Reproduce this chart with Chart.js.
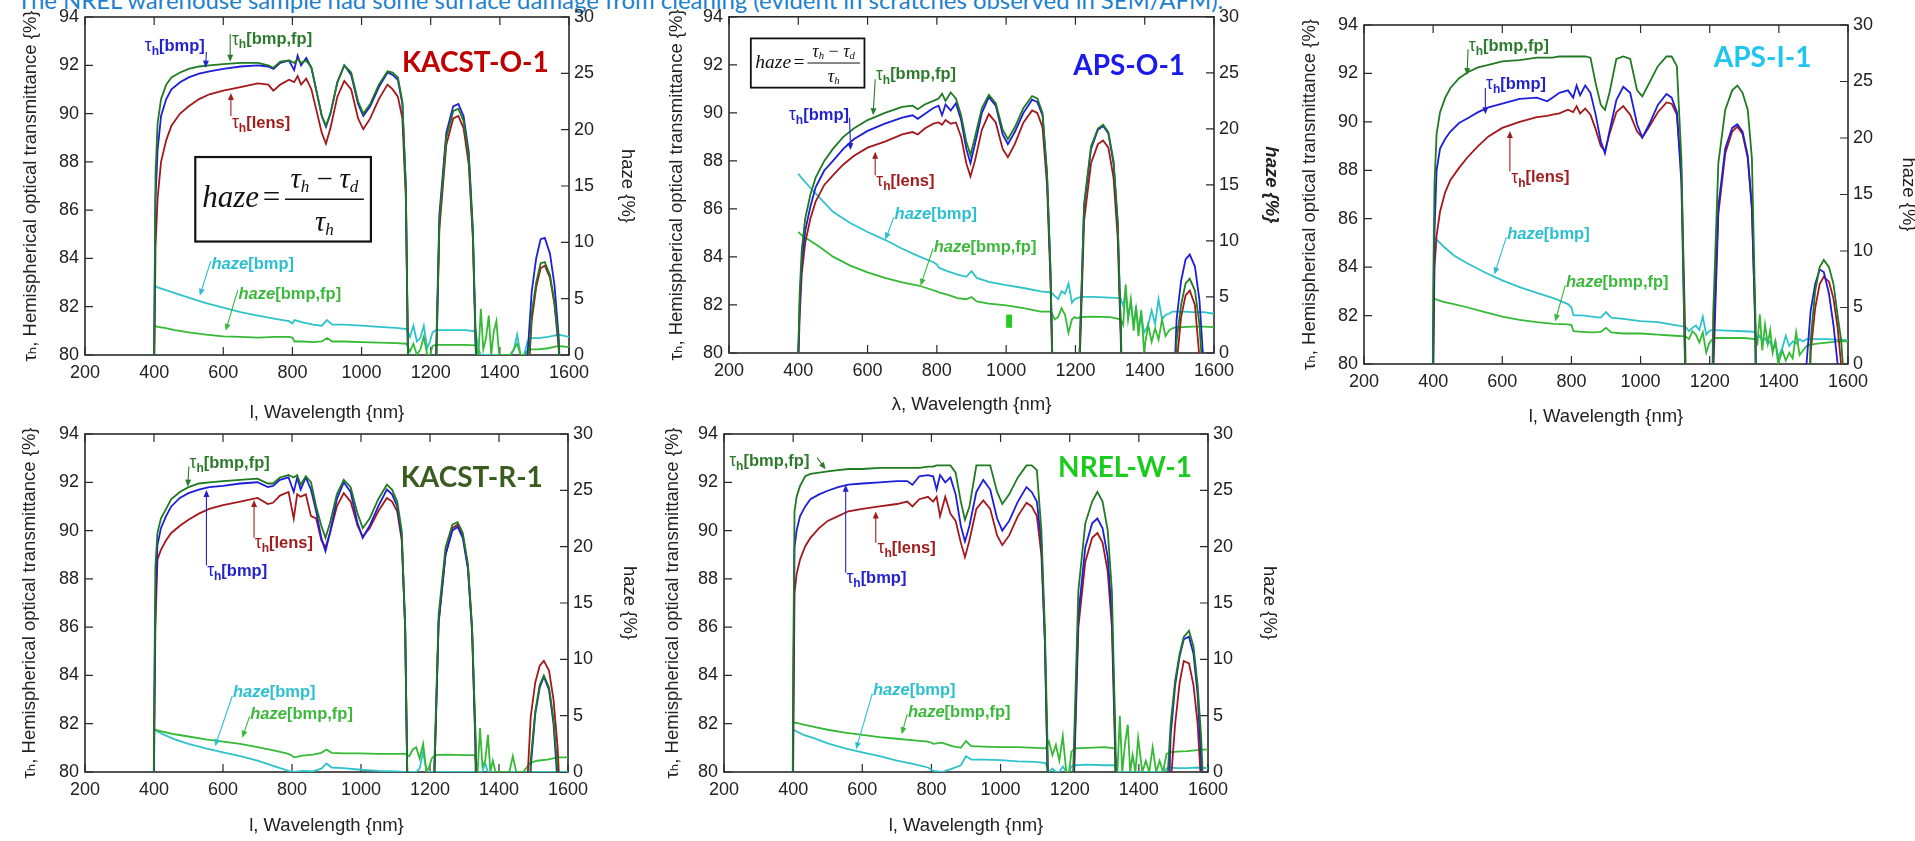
<!DOCTYPE html>
<html><head><meta charset="utf-8">
<script src="https://cdn.jsdelivr.net/npm/chart.js@4.4.1/dist/chart.umd.min.js"></script>
<style>
html,body{margin:0;padding:0;background:#fff;width:1915px;height:841px;overflow:hidden;position:relative;}
#note{position:absolute;left:17px;top:-12px;font-family:Lato,"Open Sans",sans-serif;font-size:23px;line-height:23px;color:#1e80cc;white-space:nowrap;}
canvas{position:absolute;}
</style></head><body>
<div id="note">The NREL warehouse sample had some surface damage from cleaning (evident in scratches observed in SEM/AFM).</div>
<script>
// ---------- shared grids & ticks ----------
const WAVELENGTH_T = [396,400,404,410,420,435,450,475,500,530,560,600,650,700,730,745,765,790,805,815,825,840,855,870,885,897,910,930,950,970,990,1005,1025,1050,1075,1090,1105,1118,1128,1136,1145,1200,1210,1225,1245,1265,1280,1295,1310,1322,1332,1340,1470,1480,1492,1505,1518,1530,1545,1558,1570,1580,1590,1600];
const WAVELENGTH_H = [400,410,430,460,500,550,600,650,700,750,790,800,806,830,860,885,900,915,950,1000,1050,1100,1130,1140,1150,1160,1170,1180,1190,1198,1205,1215,1250,1300,1330,1338,1345,1352,1360,1368,1375,1382,1390,1398,1410,1420,1430,1440,1450,1460,1470,1480,1490,1510,1540,1570,1600];
const X_TICKS = [200,400,600,800,1000,1200,1400,1600];
const T_TICKS = [80,82,84,86,88,90,92,94];
const HAZE_TICKS = [0,5,10,15,20,25,30];
const SAMPLE_NAMES = ['KACST-O-1','APS-O-1','APS-I-1','KACST-R-1','NREL-W-1'];

// ---------- KACST-O-1 ----------
const kacstO_tauFp   = [70,80.5,87.5,89.6,90.6,91.2,91.5,91.7,91.85,91.95,92.0,92.05,92.1,92.1,92.0,91.9,92.15,92.2,92.1,92.25,92.1,92.2,91.9,90.9,89.9,89.5,90.0,91.3,92.0,91.7,90.5,90.0,90.4,91.2,91.75,91.7,91.5,90.5,87,78,70,70,76,85.5,89.0,90.1,90.2,89.7,88.2,85,79.5,70,70,79,81.7,83.0,83.8,83.85,83.3,82.2,80.5,77,70,70];
const kacstO_tauBmp  = [70,80,86.5,88.5,89.9,90.6,91.0,91.3,91.5,91.65,91.75,91.85,91.95,92.0,91.95,91.85,92.1,92.2,91.8,92.4,92.0,92.3,91.9,90.9,89.9,89.45,90.0,91.3,92.0,91.6,90.4,89.9,90.3,91.1,91.7,91.6,91.4,90.4,87,78,70,70,76.5,85.8,89.2,90.3,90.4,89.9,88.4,85.2,79.5,70,70,80,82.6,84.0,84.8,84.85,84.2,82.9,80.8,77,70,70];
const kacstO_tauLens = [70,79,84.5,86.5,88.0,88.9,89.5,90.0,90.3,90.6,90.8,90.95,91.1,91.25,91.2,90.95,91.2,91.4,91.3,91.55,91.2,91.45,91.0,90.1,89.2,88.75,89.4,90.7,91.35,91.0,89.8,89.35,89.8,90.6,91.2,91.0,90.7,89.8,86.5,78,70,70,76,85.2,88.7,89.8,89.9,89.4,87.9,84.8,79.2,70,70,78.5,81.4,82.8,83.6,83.7,83.2,82.1,80.3,77,70,70];
const kacstO_hazeBmp = [6.2,6.0,5.8,5.5,5.1,4.6,4.2,3.8,3.5,3.2,3.0,2.8,3.1,2.9,2.7,2.6,3.1,2.7,2.7,2.6,2.5,2.4,2.3,1.6,2.6,1.2,1.5,2.6,0.6,1.2,2.0,2.2,2.2,2.2,2.1,0.5,0,0,0,0,0,0,0,0,0,0,0,0.4,1.8,0,0,1.2,1.5,1.5,1.6,1.8,1.6];
const kacstO_hazeFp  = [2.6,2.5,2.4,2.2,2.0,1.8,1.65,1.6,1.55,1.6,1.6,1.55,1.2,1.2,1.15,1.2,1.5,1.2,1.2,1.15,1.1,1.05,1.0,0.3,1.0,0,0.5,1.6,0,0,0.8,0.9,0.9,0.9,0.85,0,4.1,0.5,1.5,3.5,0,2.0,3.0,0,0,0,0,0.5,1.0,0,0,0.4,0.5,0.5,0.6,0.8,0.7];

// ---------- APS-O-1 ----------
const apsO_tauFp   = [70,80,82.5,84.3,85.6,86.6,87.3,88.0,88.5,89.0,89.35,89.7,90.0,90.25,90.3,90.15,90.35,90.5,90.6,90.8,90.5,90.85,90.6,89.9,88.8,88.25,89.0,90.2,90.75,90.4,89.3,88.9,89.4,90.2,90.7,90.6,90.0,87.5,83.5,78,70,70,79,86.2,88.6,89.35,89.5,89.2,88.0,85.5,80.5,70,70,75,80.5,82.0,82.9,83.1,82.6,81.2,78.5,74,70,70];
const apsO_tauBmp  = [70,80,82,83.8,85.1,86.1,86.9,87.6,88.0,88.5,88.9,89.25,89.55,89.8,89.9,89.75,89.95,90.2,90.3,89.9,90.35,90.1,90.4,89.7,88.5,87.9,88.7,90.0,90.65,90.3,89.1,88.7,89.2,90.0,90.55,90.45,89.9,87.4,83.4,78,70,70,79,86.1,88.5,89.3,89.45,89.15,87.9,85.4,80.4,70,70,77,81.4,83.0,83.9,84.1,83.6,82.2,79.5,75,70,70];
const apsO_tauLens = [70,79.5,81.5,83.3,84.6,85.6,86.3,87.0,87.4,87.85,88.2,88.55,88.8,89.1,89.2,89.1,89.35,89.55,89.6,89.5,89.7,89.55,89.6,89.0,87.9,87.35,88.0,89.3,89.95,89.6,88.5,88.15,88.7,89.6,90.1,90.0,89.4,87.0,83.0,77.5,70,70,78.5,85.5,87.9,88.7,88.85,88.55,87.3,84.8,80,70,70,74,79.5,81.5,82.4,82.6,82.0,79.8,75,70,70,70];
const apsO_hazeBmp = [16.0,15.6,14.9,13.9,12.6,11.6,10.8,10.1,9.3,8.6,8.1,7.9,7.6,7.3,7.0,6.8,7.3,6.7,6.35,6.05,5.8,5.5,5.4,5.1,4.8,5.5,5.3,6.2,4.5,4.8,4.9,5.0,5.0,4.95,4.9,4.2,5.6,3.2,4.5,2.5,4.0,2.2,3.5,1.8,2.5,3.8,2.6,4.8,3.0,3.4,3.5,3.7,3.7,3.7,3.65,3.65,3.5];
const apsO_hazeFp  = [10.8,10.5,10.1,9.5,8.6,7.8,7.2,6.7,6.3,6.0,5.6,5.5,5.4,5.2,4.9,4.8,5.0,4.6,4.4,4.25,4.0,3.7,3.7,3.0,3.2,4.0,3.4,1.8,3.0,3.2,3.1,3.2,3.25,3.2,3.0,2.5,6.1,3.0,4.8,2.0,4.2,1.5,3.8,0.2,2.5,1.0,2.2,1.2,3.0,1.5,2.0,2.2,2.3,2.3,2.35,2.35,2.3];

// ---------- APS-I-1 ----------
const apsI_tauFp   = [70,83,87.5,89.5,90.4,91.0,91.4,91.8,92.05,92.25,92.35,92.5,92.55,92.65,92.65,92.65,92.7,92.7,92.7,92.7,92.7,92.7,92.65,91.6,90.7,90.5,91.2,92.6,92.7,92.6,91.3,91.05,91.6,92.3,92.7,92.7,92.3,88.5,80.5,72,70,70,82,88.3,90.5,91.3,91.5,91.2,90.5,88.5,82,70,70,73,81.0,83.0,84.0,84.3,84.0,83.3,82.0,81,79,75];
const apsI_tauBmp  = [70,79,85.5,88.0,88.9,89.3,89.6,89.95,90.15,90.4,90.6,90.75,90.95,91.0,90.85,91.0,91.2,91.3,91.0,91.5,91.1,91.5,91.2,90.3,89.2,88.7,89.6,90.9,91.45,91.2,89.9,89.35,89.9,90.7,91.15,91.0,90.4,87.5,80.5,72,70,71,80.5,86.5,88.9,89.75,89.9,89.6,88.6,86.5,81.5,70,70,80,82.2,83.3,83.9,83.8,82.9,81.6,80,77,70,70];
const apsI_tauLens = [70,80,84.0,85.3,86.3,87.1,87.6,88.1,88.55,89.0,89.4,89.75,90.0,90.2,90.25,90.3,90.35,90.5,90.4,90.65,90.35,90.55,90.3,89.7,89.0,88.8,89.5,90.4,90.65,90.3,89.6,89.35,89.8,90.4,90.8,90.75,90.3,88.0,82,74,70,70,79.5,86.2,88.7,89.6,89.8,89.5,88.5,86.4,81.5,70,70,74,80.5,82.3,83.3,83.6,83.4,82.7,81.5,80.0,78,73];
const apsI_hazeBmp = [11.3,11.0,10.4,9.6,8.9,8.1,7.4,6.8,6.3,5.8,5.3,5.0,4.3,4.3,4.2,4.1,4.6,4.1,4.0,3.8,3.7,3.45,3.3,2.9,3.2,3.4,3.0,4.2,2.6,2.9,3.0,3.0,2.95,2.9,2.85,2.2,2.5,1.9,2.3,1.8,2.0,1.2,2.0,0.6,1.4,2.5,1.6,2.0,1.8,2.2,2.0,2.2,2.2,2.2,2.2,2.15,2.1];
const apsI_hazeFp  = [5.8,5.7,5.5,5.3,5.0,4.6,4.2,3.9,3.7,3.55,3.5,3.45,2.9,2.85,2.8,2.85,3.2,2.8,2.7,2.7,2.6,2.5,2.45,2.2,2.9,2.6,1.9,2.8,1.0,1.8,2.1,2.3,2.3,2.3,2.2,1.8,4.4,1.2,3.5,1.8,3.0,1.0,2.0,0,1.2,0.3,1.0,0.5,2.8,0.8,1.2,1.6,1.7,1.8,1.9,2.0,2.0];

// ---------- KACST-R-1 ----------
const kacstR_tauFp   = [70,82,88.5,89.9,90.5,90.9,91.3,91.6,91.8,91.95,92.0,92.05,92.1,92.15,91.95,91.95,92.2,92.3,92.2,92.3,91.9,92.25,92.0,91.0,90.2,89.7,90.3,91.5,92.1,91.8,90.7,90.1,90.5,91.3,91.9,91.7,91.2,90.0,86,78,70,70,79,86.5,89.3,90.25,90.35,89.9,88.6,86,81.5,70,70,74,80.5,82.5,83.6,84.0,83.5,82.2,80,76,70,70];
const kacstR_tauBmp  = [70,81,87,89.4,90.1,90.6,91.0,91.35,91.55,91.7,91.8,91.85,91.95,92.0,91.8,91.85,92.1,92.2,91.6,92.2,91.7,92.2,91.7,90.8,89.7,89.15,89.9,91.3,92.0,91.6,90.3,89.7,90.2,91.0,91.7,91.5,91.0,89.8,86,78,70,70,78.5,86.2,89.0,90.0,90.15,89.7,88.4,85.8,81,70,70,73,80.2,82.4,83.5,83.95,83.4,82.0,79.5,75,70,70];
const kacstR_tauLens = [70,80,86,88.8,89.2,89.6,89.9,90.2,90.45,90.7,90.9,91.05,91.2,91.35,91.1,91.15,91.45,91.6,90.5,91.5,91.4,91.5,90.6,90.5,89.6,89.3,89.9,91.0,91.55,91.2,90.2,89.75,90.1,90.8,91.35,91.2,90.8,89.6,86,78,70,70,78.5,86.2,89.0,90.1,90.25,89.8,88.5,85.9,81,70,70,79,82.3,83.7,84.4,84.6,84.2,83.0,81.0,78,70,70];
const kacstR_hazeBmp = [3.8,3.6,3.3,2.9,2.5,2.1,1.75,1.4,1.0,0.5,0.1,0,0,0.1,0.05,0.3,0.75,0.4,0.35,0.2,0.1,0.05,0,0,0,0,0.3,1.8,0,0,0,0,0,0,0,0,0,0,0.8,0,0,0,0,0,0,0,0,0,0,0,0,0,0,0,0,0,0];
const kacstR_hazeFp  = [3.8,3.7,3.55,3.35,3.15,2.9,2.7,2.5,2.2,1.9,1.6,1.45,1.3,1.45,1.55,1.7,2.0,1.7,1.65,1.65,1.6,1.6,1.6,1.4,2.0,2.2,1.2,2.5,0,0.5,1.2,1.5,1.55,1.5,1.5,0,3.9,0.5,1.0,3.3,0,1.0,0,0,0,0,0,1.4,0,0,0,0.4,0.8,1.0,1.1,1.3,1.3];

// ---------- NREL-W-1 ----------
const nrel_tauFp   = [70,84,90.8,91.4,91.85,92.25,92.35,92.4,92.45,92.5,92.55,92.55,92.6,92.6,92.6,92.6,92.6,92.65,92.65,92.7,92.7,92.7,92.7,92.4,91.2,90.45,91.0,92.7,92.7,92.7,91.6,91.1,91.5,92.2,92.7,92.7,92.5,90,86,81,70,70,80,87.5,90.3,91.2,91.6,91.2,90.0,87.5,81.5,70,70,79,82.0,83.8,84.9,85.6,85.85,85.2,83.6,81.5,78,70];
const nrel_tauBmp  = [70,82,89.3,90.0,90.6,91.0,91.3,91.5,91.65,91.8,91.9,91.95,92.0,92.05,92.05,91.9,92.25,92.3,92.25,91.7,92.3,92.0,92.2,91.5,90.2,89.55,90.2,91.6,92.1,91.7,90.5,90.0,90.4,91.2,91.8,91.6,91.2,89.5,85.5,80,70,70,79,86.5,89.3,90.3,90.5,90.1,88.9,86.5,81,70,70,76,81.5,83.6,84.8,85.5,85.6,84.9,83.2,80.5,77,70];
const nrel_tauLens = [70,80,87.4,88.2,88.8,89.35,89.7,90.1,90.4,90.6,90.8,90.9,91.0,91.1,91.2,91.0,91.3,91.4,91.2,91.4,90.6,91.4,90.7,90.4,89.5,88.9,89.6,90.9,91.25,90.9,89.8,89.4,89.8,90.6,91.15,91.0,90.6,89.0,85.5,80,70,70,78.5,86.0,88.7,89.7,89.9,89.5,88.3,86.0,80.5,70,70,74,79.5,82.0,83.7,84.6,84.5,83.6,82.0,79.5,76,70];
const nrel_hazeBmp = [3.8,3.6,3.3,3.0,2.55,2.1,1.75,1.4,1.0,0.7,0.4,0.2,0.1,0,0.3,0.6,1.4,1.1,1.1,1.05,0.95,0.9,0.8,0,0.3,0,0,0.5,0,0,0.5,0.6,0.65,0.6,0.6,0,0,0,0,0,0,0,0,0,0,0,0,0,0,0,0,0.3,0.4,0.35,0.35,0.4,0.35];
const nrel_hazeFp  = [4.4,4.35,4.2,4.0,3.75,3.5,3.3,3.1,2.95,2.8,2.7,2.6,2.5,2.6,2.3,2.15,2.75,2.3,2.25,2.2,2.2,2.15,2.1,2.7,1.5,2.4,1.0,3.2,0,0,1.8,2.1,2.15,2.2,2.1,0,5.0,0,2.5,4.2,0,1.5,0,3.0,0,1.0,0,2.2,0,1.0,0,1.6,1.75,1.8,1.85,1.95,2.0];

// ---------- styles ----------
const LINE_C = {tauFp:'#1f7a22', tauBmp:'#1e1ed8', tauLens:'#a3191b', hazeBmp:'#2ec3cb', hazeFp:'#35ba35'};
const LABEL_C = {tauFp:'#2c7a2c', tauBmp:'#2222cc', tauLens:'#a01d1d', hazeBmp:'#2bbfd0', hazeFp:'#3cb83c'};
const SANS = '"Liberation Sans", Arial, "DejaVu Sans", sans-serif';
const SERIF = '"Liberation Serif", "DejaVu Serif", serif';

const PANELS = [
 { box:{L:85,R:569,T:17,B:355}, tl:{leftX:31,rightX:627,xY:413}, xTitle:'l, Wavelength {nm}', rightBI:false,
   s:[kacstO_tauFp,kacstO_tauBmp,kacstO_tauLens,kacstO_hazeBmp,kacstO_hazeFp],
   name:{text:SAMPLE_NAMES[0], color:'#c00000', x:1329, y:92.1},
   formula:{x1:519,y1:88.2,x2:1027,y2:84.7,fs:31},
   labels:[
    {k:'tau',t:'[bmp]',c:'tauBmp',x:373,y:92.8,a:[551,92.55,549,91.9]},
    {k:'tau',t:'[bmp,fp]',c:'tauFp',x:625,y:93.06,a:[620,93.3,620,92.15]},
    {k:'tau',t:'[lens]',c:'tauLens',x:625,y:89.6,a:[622,89.9,622,90.85]},
    {k:'haze',t:'[bmp]',c:'hazeBmp',x:566,y:83.76,a:[564,83.9,532,82.45]},
    {k:'haze',t:'[bmp,fp]',c:'hazeFp',x:644,y:82.52,a:[642,82.7,607,81.0]}]},
 { box:{L:729,R:1214,T:15,B:353}, tl:{leftX:677,rightX:1271,xY:405}, xTitle:'λ, Wavelength {nm}', rightBI:true,
   s:[apsO_tauFp,apsO_tauBmp,apsO_tauLens,apsO_hazeBmp,apsO_hazeFp],
   name:{text:SAMPLE_NAMES[1], color:'#1a1aee', x:1355, y:91.97},
   formula:{x1:263,y1:93.1,x2:591,y2:91.05,fs:19.5},
   mark:{x1:1000,y1:81.6,x2:1017,y2:81.05,color:'#22cc22'},
   labels:[
    {k:'tau',t:'[bmp,fp]',c:'tauFp',x:624,y:91.58,a:[622,91.4,616,89.9]},
    {k:'tau',t:'[bmp]',c:'tauBmp',x:373,y:89.9,a:[548,89.8,551,88.45]},
    {k:'tau',t:'[lens]',c:'tauLens',x:625,y:87.14,a:[622,87.4,622,88.38]},
    {k:'haze',t:'[bmp]',c:'hazeBmp',x:678,y:85.76,a:[676,85.65,651,84.72]},
    {k:'haze',t:'[bmp,fp]',c:'hazeFp',x:791,y:84.4,a:[789,84.35,753,82.8]}]},
 { box:{L:1364,R:1848,T:25,B:364}, tl:{leftX:1310,rightX:1908,xY:417}, xTitle:'l, Wavelength {nm}', rightBI:false,
   s:[apsI_tauFp,apsI_tauBmp,apsI_tauLens,apsI_hazeBmp,apsI_hazeFp],
   name:{text:SAMPLE_NAMES[2], color:'#1fc6f0', x:1353, y:92.65},
   labels:[
    {k:'tau',t:'[bmp,fp]',c:'tauFp',x:503,y:93.13,a:[501,93.0,498,91.93]},
    {k:'tau',t:'[bmp]',c:'tauBmp',x:553,y:91.55,a:[551,91.4,551,90.31]},
    {k:'tau',t:'[lens]',c:'tauLens',x:626,y:87.69,a:[622,87.95,622,89.62]},
    {k:'haze',t:'[bmp]',c:'hazeBmp',x:614,y:85.37,a:[612,85.25,577,83.7]},
    {k:'haze',t:'[bmp,fp]',c:'hazeFp',x:784,y:83.35,a:[782,83.25,753,81.76]}]},
 { box:{L:85,R:568,T:434,B:772}, tl:{leftX:30,rightX:629,xY:826}, xTitle:'l, Wavelength {nm}', rightBI:false,
   s:[kacstR_tauFp,kacstR_tauBmp,kacstR_tauLens,kacstR_hazeBmp,kacstR_hazeFp],
   name:{text:SAMPLE_NAMES[3], color:'#3b5c1f', x:1321, y:92.17},
   labels:[
    {k:'tau',t:'[bmp,fp]',c:'tauFp',x:503,y:92.79,a:[501,92.65,498,91.82]},
    {k:'tau',t:'[lens]',c:'tauLens',x:692,y:89.48,a:[690,89.7,690,91.27]},
    {k:'tau',t:'[bmp]',c:'tauBmp',x:554,y:88.31,a:[552,88.55,552,91.68]},
    {k:'haze',t:'[bmp]',c:'hazeBmp',x:629,y:83.28,a:[627,83.15,577,81.07]},
    {k:'haze',t:'[bmp,fp]',c:'hazeFp',x:679,y:82.38,a:[677,82.3,656,81.42]}]},
 { box:{L:724,R:1208,T:434,B:772}, tl:{leftX:673,rightX:1269,xY:826}, xTitle:'l, Wavelength {nm}', rightBI:false,
   s:[nrel_tauFp,nrel_tauBmp,nrel_tauLens,nrel_hazeBmp,nrel_hazeFp],
   name:{text:SAMPLE_NAMES[4], color:'#1ccc1c', x:1360, y:92.6},
   labels:[
    {k:'tau',t:'[bmp,fp]',c:'tauFp',x:215,y:92.86,a:[469,93.02,494,92.54]},
    {k:'tau',t:'[bmp]',c:'tauBmp',x:554,y:88.03,a:[552,88.25,552,91.9]},
    {k:'tau',t:'[lens]',c:'tauLens',x:644,y:89.27,a:[639,89.5,639,90.79]},
    {k:'haze',t:'[bmp]',c:'hazeBmp',x:631,y:83.39,a:[629,83.25,582,80.94]},
    {k:'haze',t:'[bmp,fp]',c:'hazeFp',x:732,y:82.48,a:[730,82.4,714,81.56]}]}
];

// ---------- fit the top note width ----------
(function(){
  const note = document.getElementById('note');
  const w = note.getBoundingClientRect().width;
  if (w > 0) note.style.fontSize = (23 * 1207 / w) + 'px';
})();

// ---------- drawing helpers ----------
function drawArrow(ctx, x1, y1, x2, y2, color) {
  ctx.save();
  ctx.strokeStyle = color; ctx.fillStyle = color; ctx.lineWidth = 1.1;
  const ang = Math.atan2(y2 - y1, x2 - x1), L = 7, Wd = 3;
  ctx.beginPath(); ctx.moveTo(x1, y1); ctx.lineTo(x2 - Math.cos(ang) * L * 0.8, y2 - Math.sin(ang) * L * 0.8); ctx.stroke();
  ctx.beginPath();
  ctx.moveTo(x2, y2);
  ctx.lineTo(x2 - Math.cos(ang) * L + Math.sin(ang) * Wd, y2 - Math.sin(ang) * L - Math.cos(ang) * Wd);
  ctx.lineTo(x2 - Math.cos(ang) * L - Math.sin(ang) * Wd, y2 - Math.sin(ang) * L + Math.cos(ang) * Wd);
  ctx.closePath(); ctx.fill();
  ctx.restore();
}
function drawLabel(ctx, x, y, kind, bracket, color) {
  const fs = 16.5;
  ctx.save();
  ctx.fillStyle = color; ctx.textBaseline = 'middle'; ctx.textAlign = 'left';
  let cx = x;
  if (kind === 'tau') {
    ctx.font = `${fs + 1}px ${SANS}`;
    ctx.fillText('τ', cx, y); cx += ctx.measureText('τ').width;
    ctx.font = `bold ${Math.round(fs * 0.75)}px ${SANS}`;
    ctx.fillText('h', cx, y + fs * 0.33); cx += ctx.measureText('h').width;
  } else {
    ctx.font = `italic bold ${fs}px ${SANS}`;
    ctx.fillText('haze', cx, y); cx += ctx.measureText('haze').width;
  }
  ctx.font = `bold ${fs}px ${SANS}`;
  ctx.fillText(bracket, cx, y);
  ctx.restore();
}
function drawFormula(ctx, x1, y1, x2, y2, fs) {
  ctx.save();
  ctx.fillStyle = '#fff'; ctx.fillRect(x1, y1, x2 - x1, y2 - y1);
  ctx.strokeStyle = '#111'; ctx.lineWidth = fs > 25 ? 2.2 : 1.8; ctx.strokeRect(x1, y1, x2 - x1, y2 - y1);
  const w = x2 - x1, h = y2 - y1, cy = (y1 + y2) / 2;
  const it = s => `italic ${s}px ${SERIF}`, rm = s => `${s}px ${SERIF}`;
  ctx.fillStyle = '#111'; ctx.textBaseline = 'alphabetic'; ctx.textAlign = 'left';
  let cx = x1 + w * 0.04;
  const base = cy + fs * 0.24;
  ctx.font = it(fs); ctx.fillText('haze', cx, base); cx += ctx.measureText('haze').width + fs * 0.12;
  ctx.font = rm(fs); ctx.fillText('=', cx, base); cx += ctx.measureText('=').width + fs * 0.15;
  const lx1 = cx, lx2 = x2 - w * 0.04;
  ctx.lineWidth = Math.max(1, fs / 22);
  ctx.beginPath(); ctx.moveTo(lx1, cy); ctx.lineTo(lx2, cy); ctx.stroke();
  const nf = fs * 0.92;
  const put = (parts, by) => {
    let tw = 0; parts.forEach(p => { ctx.font = p[1]; tw += ctx.measureText(p[0]).width; });
    let nx = (lx1 + lx2) / 2 - tw / 2;
    parts.forEach(p => { ctx.font = p[1]; ctx.fillText(p[0], nx, by + p[2]); nx += ctx.measureText(p[0]).width; });
  };
  put([['τ', it(nf), 0], ['h', it(nf * 0.6), nf * 0.12], [' − ', rm(nf), 0], ['τ', it(nf), 0], ['d', it(nf * 0.6), nf * 0.12]], cy - 0.2 * h + nf * 0.2);
  put([['τ', it(nf), 0], ['h', it(nf * 0.6), nf * 0.12]], cy + 0.31 * h + nf * 0.2);
  ctx.restore();
}

// ---------- build charts ----------
const TICKFONT = {family: SANS, size: 18};
const TFONT = {family: SANS, size: 18.5};
PANELS.forEach((p, idx) => {
  const cL = p.tl.leftX - 15, cR = p.tl.rightX + 15;
  const cT = Math.max(0, p.box.T - 20), cB = p.tl.xY + 15;
  const W = cR - cL, H = cB - cT;
  const padL = p.box.L - cL, padR = cR - p.box.R, padT = p.box.T - cT, padB = cB - p.box.B;
  const tpad = 15 - 18.5 * 1.2 / 2;
  const cv = document.createElement('canvas');
  cv.width = W; cv.height = H;
  cv.style.left = cL + 'px'; cv.style.top = cT + 'px';
  cv.style.width = W + 'px'; cv.style.height = H + 'px';
  document.body.appendChild(cv);

  const mk = (arr, grid, axis, key) => ({
    data: grid.map((x, i) => ({x, y: arr[i]})),
    yAxisID: axis, borderColor: LINE_C[key], borderWidth: 1.8,
    pointRadius: 0, fill: false, tension: 0
  });
  const datasets = [
    mk(p.s[0], WAVELENGTH_T, 'y', 'tauFp'),
    mk(p.s[1], WAVELENGTH_T, 'y', 'tauBmp'),
    mk(p.s[2], WAVELENGTH_T, 'y', 'tauLens'),
    mk(p.s[4], WAVELENGTH_H, 'y1', 'hazeFp'),
    mk(p.s[3], WAVELENGTH_H, 'y1', 'hazeBmp')
  ];
  const frame = {
    id: 'frame' + idx,
    beforeDatasetsDraw(chart) {
      const {ctx, chartArea: a, scales} = chart;
      ctx.save();
      ctx.strokeStyle = '#2a2a2a'; ctx.lineWidth = 1.6;
      ctx.strokeRect(a.left, a.top, a.right - a.left, a.bottom - a.top);
      ctx.lineWidth = 1.2; ctx.beginPath();
      X_TICKS.forEach(v => { const px = scales.x.getPixelForValue(v); ctx.moveTo(px, a.bottom); ctx.lineTo(px, a.bottom - 8); ctx.moveTo(px, a.top); ctx.lineTo(px, a.top + 8); });
      T_TICKS.forEach(v => { const py = scales.y.getPixelForValue(v); ctx.moveTo(a.left, py); ctx.lineTo(a.left + 8, py); });
      HAZE_TICKS.forEach(v => { const py = scales.y1.getPixelForValue(v); ctx.moveTo(a.right, py); ctx.lineTo(a.right - 8, py); });
      ctx.stroke(); ctx.restore();
    },
    afterDraw(chart) {
      const {ctx, scales: {x, y}} = chart;
      const X = v => x.getPixelForValue(v), Y = v => y.getPixelForValue(v);
      if (p.formula) drawFormula(ctx, X(p.formula.x1), Y(p.formula.y1), X(p.formula.x2), Y(p.formula.y2), p.formula.fs);
      if (p.mark) { ctx.save(); ctx.fillStyle = p.mark.color; ctx.fillRect(X(p.mark.x1), Y(p.mark.y1), X(p.mark.x2) - X(p.mark.x1), Y(p.mark.y2) - Y(p.mark.y1)); ctx.restore(); }
      p.labels.forEach(l => {
        drawArrow(ctx, X(l.a[0]), Y(l.a[1]), X(l.a[2]), Y(l.a[3]), LABEL_C[l.c]);
        drawLabel(ctx, X(l.x), Y(l.y), l.k, l.t, LABEL_C[l.c]);
      });
      ctx.save();
      ctx.font = 'bold 28px Lato, "Open Sans", sans-serif';
      ctx.fillStyle = p.name.color; ctx.textAlign = 'center'; ctx.textBaseline = 'middle';
      ctx.fillText(p.name.text, X(p.name.x), Y(p.name.y));
      ctx.restore();
    }
  };
  const tickBase = {font: TICKFONT, color: '#222', autoSkip: false, maxRotation: 0};
  new Chart(cv, {
    type: 'line',
    data: {datasets},
    options: {
      responsive: false, animation: false, devicePixelRatio: 1,
      layout: {padding: {top: padT, left: 0, right: 0, bottom: 0}},
      plugins: {legend: {display: false}, tooltip: {enabled: false}},
      events: [],
      scales: {
        x: {type: 'linear', min: 200, max: 1600,
            afterBuildTicks: s => { s.ticks = X_TICKS.map(v => ({value: v})); },
            afterFit: s => { s.height = padB; },
            grid: {display: false, drawTicks: false}, border: {display: false},
            ticks: Object.assign({}, tickBase, {padding: 7, callback: v => String(v)}),
            title: {display: true, text: p.xTitle, font: TFONT, color: '#222', padding: {top: 0, bottom: tpad}}},
        y: {type: 'linear', position: 'left', min: 80, max: 94,
            afterBuildTicks: s => { s.ticks = T_TICKS.map(v => ({value: v})); },
            afterFit: s => { s.width = padL; },
            grid: {display: false, drawTicks: false}, border: {display: false},
            ticks: Object.assign({}, tickBase, {padding: 6, callback: v => String(v)}),
            title: {display: true, text: 'τₕ, Hemispherical optical transmittance {%}', font: TFONT, color: '#222', padding: {top: tpad, bottom: 0}}},
        y1: {type: 'linear', position: 'right', min: 0, max: 30,
            afterBuildTicks: s => { s.ticks = HAZE_TICKS.map(v => ({value: v})); },
            afterFit: s => { s.width = padR; },
            grid: {display: false, drawTicks: false}, border: {display: false},
            ticks: Object.assign({}, tickBase, {padding: 5, callback: v => String(v)}),
            title: {display: true, text: 'haze {%}', font: p.rightBI ? {family: SANS, size: 18.5, weight: 'bold', style: 'italic'} : TFONT, color: '#222', padding: {top: tpad, bottom: 0}}}
      }
    },
    plugins: [frame]
  });
});
</script>
</body></html>
